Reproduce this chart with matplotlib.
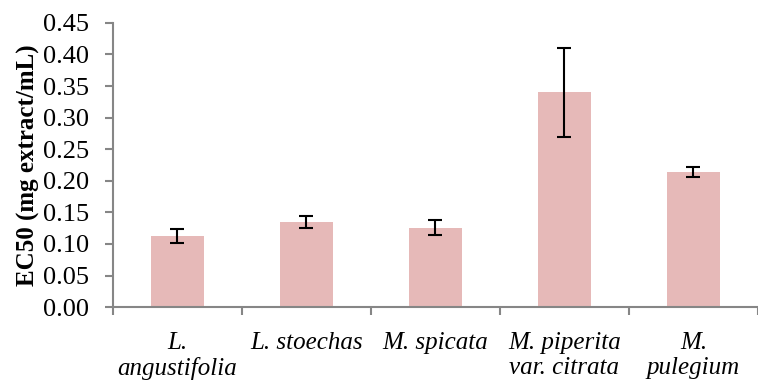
import numpy as np
import matplotlib
matplotlib.use("Agg")
import matplotlib.pyplot as plt

species = ["L.\nangustifolia", "L. stoechas", "M. spicata",
           "M. piperita\nvar. citrata", "M.\npulegium"]
ec50 = [0.113, 0.135, 0.126, 0.340, 0.214]
err = [0.011, 0.009, 0.0125, 0.071, 0.0075]

plt.rcParams["font.family"] = "serif"
plt.rcParams["font.serif"] = ["Liberation Serif", "DejaVu Serif"]

fig = plt.figure(figsize=(7.58, 3.82), dpi=100)
ax = fig.add_axes([0.149, 0.196, 0.851, 0.744])

x = np.arange(len(species))
ax.bar(x, ec50, width=0.41, color="#E6B9B8", zorder=2)
ax.errorbar(x, ec50, yerr=err, fmt="none", ecolor="black",
            elinewidth=1.5, capsize=5, capthick=1.5, zorder=3)

ax.set_ylim(0, 0.45)
yt = np.arange(0, 0.451, 0.05)
ax.set_yticks(yt)
ax.set_yticklabels([f"{v:.2f}" for v in yt])
ax.set_xlim(-0.5, 4.44)

ax.set_xticks(x)
ax.set_xticklabels(species, fontstyle="italic", fontsize=18, linespacing=1.15)
ax.set_xticks(np.arange(-0.5, 4.6, 1), minor=True)
ax.tick_params(axis="x", which="major", length=0, pad=18)
ax.tick_params(axis="x", which="minor", length=6, width=1.5, color="#868686")
ax.tick_params(axis="y", length=6, width=1.5, color="#868686", labelsize=19, pad=11)

for s in ["top", "right"]:
    ax.spines[s].set_visible(False)
for s in ["left", "bottom"]:
    ax.spines[s].set_color("#868686")
    ax.spines[s].set_linewidth(1.5)

ax.set_ylabel("EC50 (mg extract/mL)", fontsize=18, fontweight="bold", labelpad=2)

fig.savefig("out.png", dpi=100)
